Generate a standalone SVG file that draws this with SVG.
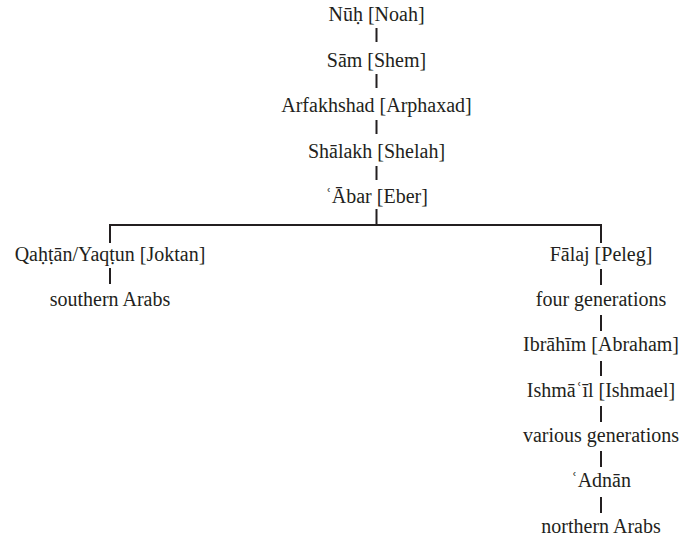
<svg xmlns="http://www.w3.org/2000/svg" width="683" height="538" viewBox="0 0 683 538">
<style>
.t text{font-family:"Liberation Serif","Times New Roman","DejaVu Serif",serif;font-size:20px;fill:#231f20;text-anchor:middle}
.c line{stroke:#231f20;stroke-width:2;fill:none}
.c path{stroke:#231f20;stroke-width:2;fill:none}
</style>
<rect width="683" height="538" fill="#fff"/>
<g class="c" id="connectors">
<line x1="376.5" y1="28" x2="376.5" y2="42"/>
<line x1="376.5" y1="74" x2="376.5" y2="88"/>
<line x1="376.5" y1="120" x2="376.5" y2="134"/>
<line x1="376.5" y1="166" x2="376.5" y2="180"/>
<line x1="376.5" y1="209" x2="376.5" y2="225"/>
<path d="M110 243 V225 H601 V243"/>
<line x1="110" y1="268" x2="110" y2="284"/>
<line x1="601" y1="269" x2="601" y2="285"/>
<line x1="601" y1="315" x2="601" y2="331"/>
<line x1="601" y1="361" x2="601" y2="376"/>
<line x1="601" y1="406" x2="601" y2="422"/>
<line x1="601" y1="451" x2="601" y2="467"/>
<line x1="601" y1="497" x2="601" y2="513"/>
</g>
<g class="t">
<g id="nuh"><text x="376.5" y="21">Nūḥ [Noah]</text></g>
<g id="sam"><text x="376.5" y="66.5">Sām [Shem]</text></g>
<g id="arfakhshad"><text x="376.5" y="112">Arfakhshad [Arphaxad]</text></g>
<g id="shalakh"><text x="376.5" y="157.5">Shālakh [Shelah]</text></g>
<g id="abar"><text x="376.5" y="203">ʿĀbar [Eber]</text></g>
<g id="qahtan"><text x="110" y="261">Qaḥṭān/Yaqṭun [Joktan]</text></g>
<g id="southern"><text x="110" y="306">southern Arabs</text></g>
<g id="falaj"><text x="601" y="261">Fālaj [Peleg]</text></g>
<g id="four"><text x="601" y="306">four generations</text></g>
<g id="ibrahim"><text x="601" y="351">Ibrāhīm [Abraham]</text></g>
<g id="ishmail"><text x="601" y="397">Ishmāʿīl [Ishmael]</text></g>
<g id="various"><text x="601" y="442">various generations</text></g>
<g id="adnan"><text x="601" y="487">ʿAdnān</text></g>
<g id="northern"><text x="601" y="533">northern Arabs</text></g>
</g>
</svg>
